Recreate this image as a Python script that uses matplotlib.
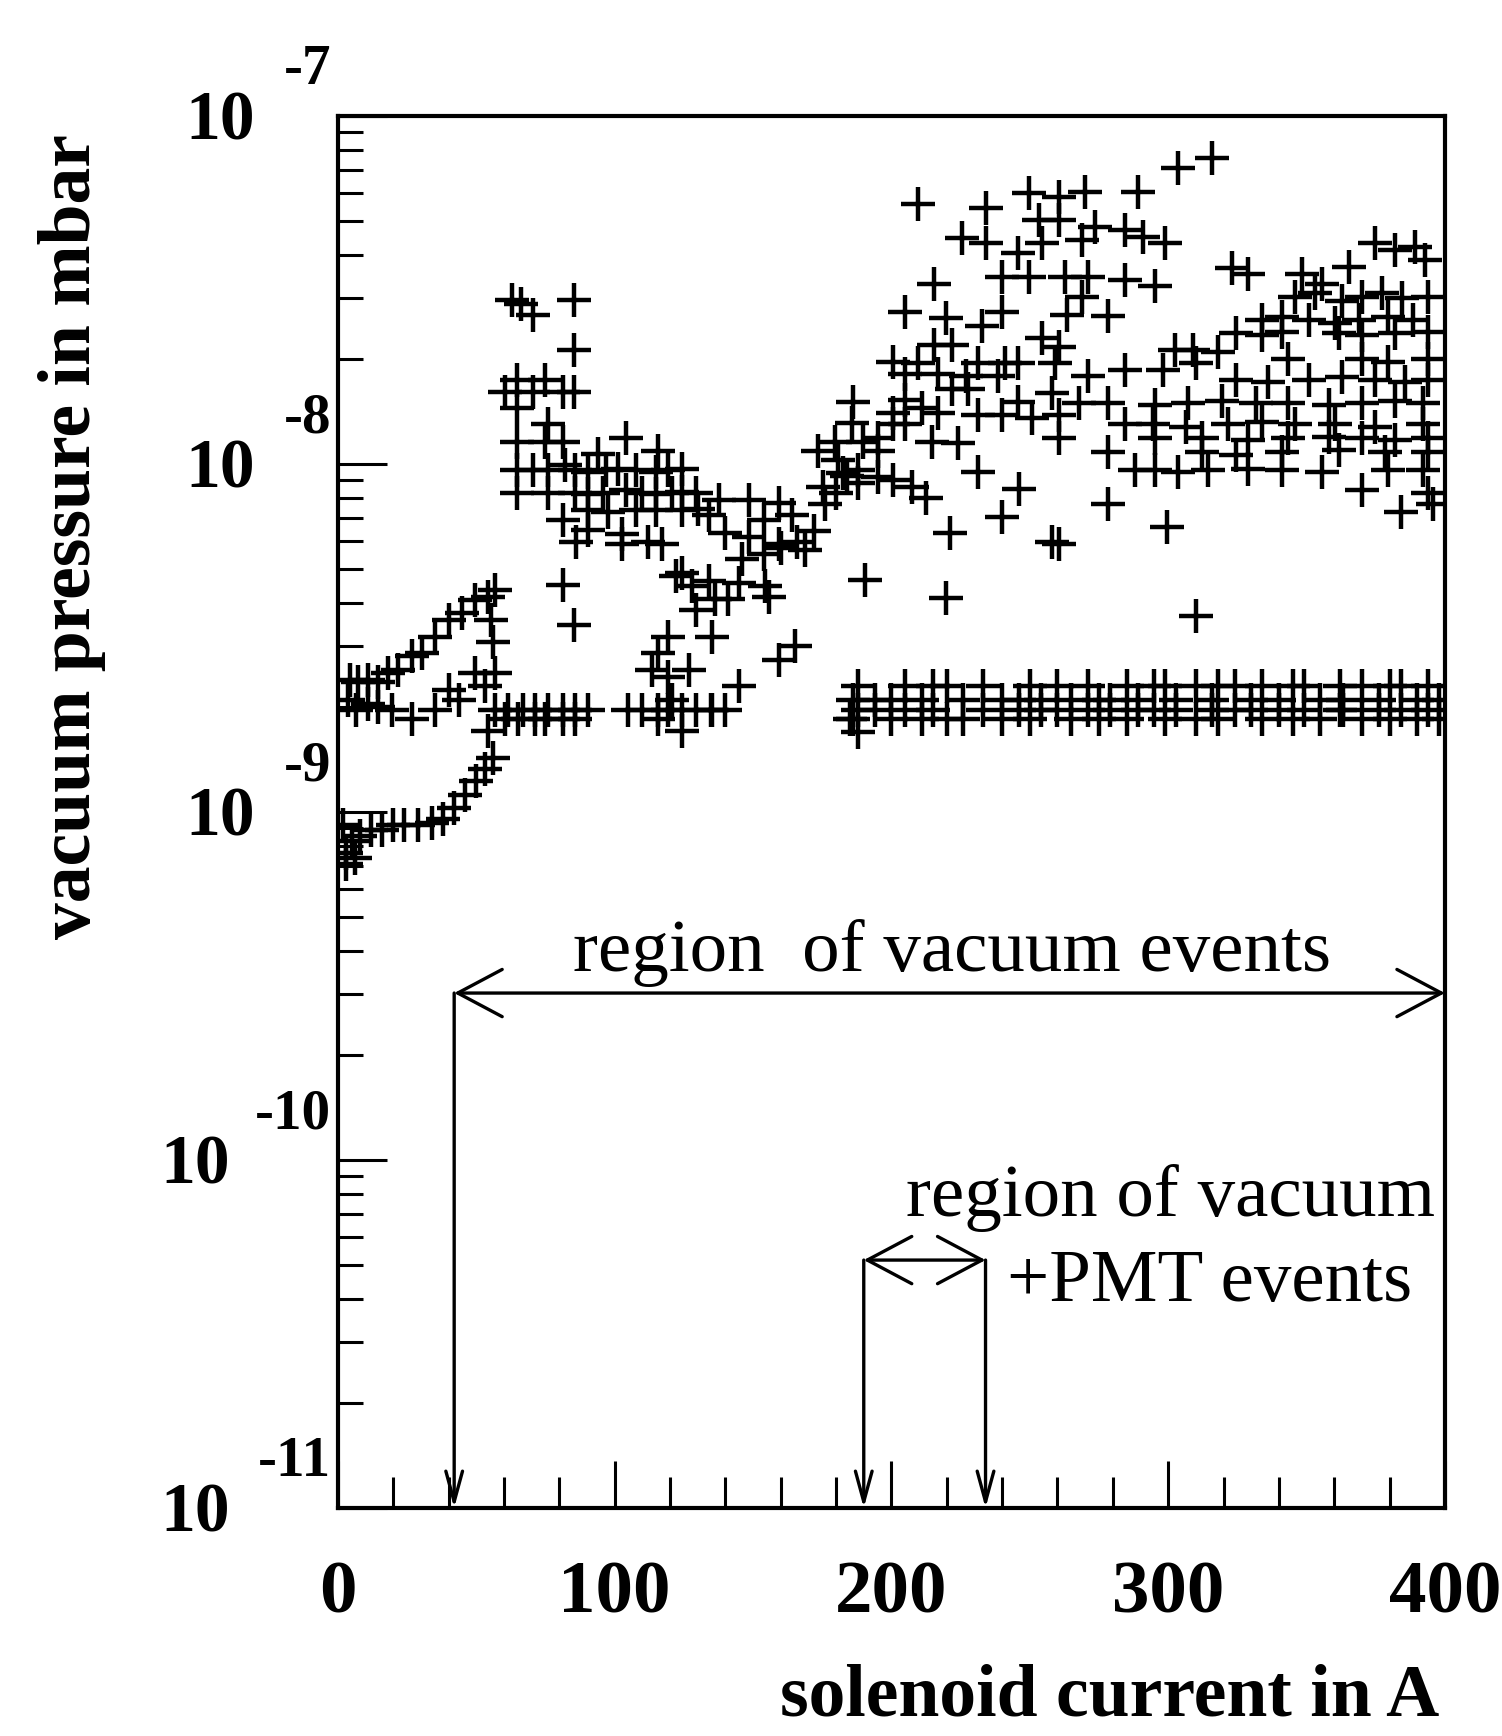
import matplotlib.pyplot as plt
from matplotlib.ticker import LogLocator, MultipleLocator, NullFormatter

plt.rcParams['font.family'] = 'serif'
plt.rcParams['font.serif'] = ['Liberation Serif', 'DejaVu Serif']

# vacuum pressure (mbar) against solenoid current (A)

# low chain at small current
low_x = [2, 3, 3, 5, 6, 8, 12, 16, 20, 24, 29, 34, 38, 42, 46, 50, 53, 56]
low_p = [9.2e-10, 7.1e-10, 7.65e-10, 8.24e-10, 7.4e-10, 8.55e-10, 8.86e-10, 8.9e-10, 9.19e-10,
         9.19e-10, 9.19e-10, 9.3e-10, 9.53e-10, 1.03e-9, 1.12e-9, 1.23e-9, 1.33e-9, 1.43e-9]

# upper chain at small current
up_x = [4.4, 7.2, 10.8, 14.4, 18, 21.6, 26.8, 30.4, 35.2, 40, 44.8, 49.6, 54.4, 56.8,
        3.6, 6.4, 10.8, 14.4, 19.6, 26.8, 35.2, 40, 43.6, 49.6, 53.2, 56.8, 55.2, 56]
up_p = [2.40e-9, 2.37e-9, 2.40e-9, 2.37e-9, 2.51e-9, 2.56e-9, 2.80e-9, 2.86e-9, 3.19e-9, 3.56e-9,
        3.73e-9, 4.07e-9, 4.16e-9, 4.35e-9,
        2.10e-9, 1.97e-9, 2.05e-9, 2.0e-9, 1.97e-9, 1.85e-9, 1.97e-9, 2.25e-9, 2.10e-9, 2.51e-9,
        2.30e-9, 2.51e-9, 3.56e-9, 3.08e-9]

# flat readings between the bursts
flat1_x = [56.8, 61.6, 66.8, 71.2, 76, 81.2, 85.6, 90.4, 60.4, 65.2, 71.2, 74.8, 81.2, 85.6, 54.4]
flat1_p = [1.97e-9, 1.97e-9, 1.97e-9, 1.97e-9, 1.97e-9, 1.97e-9, 1.97e-9, 1.97e-9,
           1.85e-9, 1.85e-9, 1.85e-9, 1.85e-9, 1.85e-9, 1.85e-9, 1.71e-9]
flat2_x = [104.8, 110, 115.6, 119.2, 124.4, 129.2, 134.8, 140, 124.4, 115.6]
flat2_p = [1.97e-9, 1.97e-9, 1.97e-9, 1.97e-9, 1.97e-9, 1.97e-9, 1.97e-9, 1.97e-9, 1.71e-9, 1.85e-9]

# baseline above ~185 A
base_x = [186, 188, 194, 200, 205, 211, 215, 220, 226, 233, 240, 246, 250, 254, 260, 265, 271, 275,
          279, 285, 289, 295, 299, 303, 310, 316, 318, 324, 330, 334, 340, 345, 349, 355, 362, 363,
          370, 376, 380, 384, 390, 394, 398]
base_hi = [2.1e-9, 2.3e-9, 2.1e-9, 2.1e-9, 2.3e-9, 2.1e-9, 2.3e-9, 2.3e-9, 2.1e-9, 2.3e-9,
           2.1e-9, 2.1e-9, 2.3e-9, 2.1e-9, 2.3e-9, 2.1e-9, 2.3e-9, 2.1e-9, 2.1e-9, 2.3e-9,
           2.1e-9, 2.3e-9, 2.3e-9, 2.1e-9, 2.3e-9, 2.1e-9, 2.3e-9, 2.3e-9, 2.1e-9, 2.3e-9,
           2.1e-9, 2.3e-9, 2.3e-9, 2.1e-9, 2.3e-9, 2.1e-9, 2.3e-9, 2.1e-9, 2.3e-9, 2.3e-9,
           2.1e-9, 2.3e-9, 2.1e-9]
base_lo = [1.85e-9, 1.97e-9, 1.97e-9, 1.85e-9, 1.97e-9, 1.85e-9, 1.97e-9, 1.85e-9, 1.85e-9, 1.97e-9,
           1.85e-9, 1.97e-9, 1.85e-9, 1.97e-9, 1.97e-9, 1.85e-9, 1.97e-9, 1.85e-9, 1.97e-9, 1.85e-9,
           1.97e-9, 1.97e-9, 1.85e-9, 1.97e-9, 1.85e-9, 1.97e-9, 1.85e-9, 1.97e-9, 1.97e-9, 1.85e-9,
           1.97e-9, 1.85e-9, 1.97e-9, 1.85e-9, 1.97e-9, 1.97e-9, 1.85e-9, 1.97e-9, 1.85e-9, 1.97e-9,
           1.85e-9, 1.97e-9, 1.85e-9]
base_start_x = [185, 188]
base_start_p = [1.85e-9, 1.7e-9]

# burst around 60-90 A
hump_x = [62.8, 66, 70.4, 85.2, 85.2, 64.8, 70.4, 74.8, 81.2, 85.2, 60.4, 64.8, 76, 64.8, 74.8,
          81.2, 64.8, 70.4, 76, 64.8, 76, 82]
hump_p = [2.97e-8, 2.88e-8, 2.68e-8, 2.97e-8, 2.13e-8, 1.75e-8, 1.61e-8, 1.75e-8, 1.61e-8, 1.61e-8,
          1.61e-8, 1.45e-8, 1.30e-8, 1.16e-8, 1.16e-8, 1.16e-8, 9.59e-9, 9.59e-9, 9.59e-9, 8.28e-9,
          8.28e-9, 9.95e-9]

# dip between 85 and 190 A
dip_x = [85.6, 90.4, 96.8, 101.2, 107.6, 114.8, 119.2, 124.4,
         85.6, 90.4, 95.6, 104, 110, 114.8, 120.8, 124.4, 129.2,
         104, 115.6, 94,
         90.4, 97.6, 107.6, 114.8, 124.4,
         81.2, 90.4, 102.8,
         102.8, 117.2, 86, 112,
         137.6, 148.4, 159.2,
         140, 148.4, 159.2, 168.8,
         130, 134,
         144.8, 154.4,
         136.4, 140.8, 155.6,
         135.2, 165.2, 159.2, 144.8, 135.2,
         81.2, 85.2, 124.4, 129.2, 119.2, 115.6,
         113.6, 119.2, 126.8, 120.8,
         122, 128, 134,
         146, 154, 160, 166, 172,
         176, 180, 184, 188,
         173.6, 180.8, 175.2, 182.4, 188,
         154, 164]
dip_p = [9.59e-9, 9.5e-9, 9.59e-9, 9.7e-9, 9.59e-9, 9.5e-9, 9.59e-9, 9.7e-9,
         8.28e-9, 8.2e-9, 8.28e-9, 8.4e-9, 8.28e-9, 8.2e-9, 8.28e-9, 8.3e-9, 8.28e-9,
         1.19e-8, 1.09e-8, 1.07e-8,
         7.36e-9, 7.3e-9, 7.36e-9, 7.4e-9, 7.36e-9,
         6.9e-9, 6.46e-9, 6.3e-9,
         5.9e-9, 5.9e-9, 5.96e-9, 5.96e-9,
         7.87e-9, 7.87e-9, 7.75e-9,
         6.33e-9, 6.18e-9, 5.9e-9, 5.66e-9,
         7.41e-9, 7.15e-9,
         4.54e-9, 4.45e-9,
         4.1e-9, 4.1e-9, 4.16e-9,
         3.19e-9, 3.0e-9, 2.73e-9, 2.3e-9, 1.97e-9,
         4.5e-9, 3.44e-9, 4.85e-9, 3.8e-9, 3.19e-9, 2.86e-9,
         2.56e-9, 2.45e-9, 2.56e-9, 2.1e-9,
         4.78e-9, 4.45e-9, 4.61e-9,
         5.33e-9, 5.53e-9, 5.74e-9, 5.96e-9, 6.41e-9,
         7.69e-9, 8.28e-9, 9.25e-9, 9.59e-9,
         1.09e-8, 1.03e-8, 8.59e-9, 9.45e-9, 8.8e-9,
         6.9e-9, 7.15e-9]

# rise between 180 and 265 A
rise_x = [185.6, 179.6, 189.6, 195.2, 200.4, 204.8,
          214.8, 224, 260.4,
          195.2, 231.2, 246,
          195.2, 200.4, 207.6, 212.4,
          186, 204.8, 222, 227.6, 245.6, 258,
          200.4, 211.2, 216.8,
          231.2, 240, 250.8, 260.4,
          204.8, 216.8, 226.8, 238.4,
          200.4, 209.6, 231.2, 241.2, 245.6, 259.2,
          215.2, 222, 254.4, 260.4,
          204.8, 219.6, 232.8, 240, 263.6,
          215.2, 240, 249.6, 262.8,
          225.6, 234, 245.6, 254.4,
          253.2, 260.4,
          209.6, 234, 249.6, 260.4,
          240, 260.4, 190.4, 219.6, 221, 258]
rise_p = [1.31e-8, 1.16e-8, 1.16e-8, 1.19e-8, 1.30e-8, 1.30e-8,
          1.16e-8, 1.15e-8, 1.19e-8,
          1.09e-8, 9.5e-9, 8.5e-9,
          9.2e-9, 9.0e-9, 8.59e-9, 8.0e-9,
          1.51e-8, 1.53e-8, 1.64e-8, 1.64e-8, 1.51e-8, 1.60e-8,
          1.40e-8, 1.45e-8, 1.40e-8,
          1.38e-8, 1.38e-8, 1.36e-8, 1.38e-8,
          1.81e-8, 1.81e-8, 1.79e-8, 1.79e-8,
          1.97e-8, 1.95e-8, 1.95e-8, 1.95e-8, 1.95e-8, 1.95e-8,
          2.2e-8, 2.2e-8, 2.31e-8, 2.17e-8,
          2.74e-8, 2.63e-8, 2.49e-8, 2.74e-8, 2.68e-8,
          3.29e-8, 3.46e-8, 3.46e-8, 3.46e-8,
          4.47e-8, 4.31e-8, 4.03e-8, 4.31e-8,
          5.03e-8, 5.03e-8,
          5.6e-8, 5.45e-8, 6.03e-8, 5.86e-8,
          7.03e-9, 5.9e-9, 4.65e-9, 4.13e-9, 6.32e-9, 5.96e-9]

# high band above 265 A
high_x = [303.6, 316, 270, 289.2,
          273.6, 284.4, 290.8, 298.8, 268.8,
          271.2, 284.4, 295.2, 278.4, 268.8,
          323.2, 328.8, 348.4, 355.6,
          365.2, 374.8, 382, 389.2, 392.8,
          346, 353.2, 362.8, 370, 377.2, 384.4, 394,
          334, 341.2, 350.8, 360.4, 368.8, 379.6, 388.4,
          324.4, 334, 341.2, 361.6, 370, 382, 394,
          302.4, 308.8, 318,
          343.2, 370, 379.6, 394,
          271.2, 284.4, 298, 310,
          324.4, 336, 350.8, 362.8, 374.8, 385.6, 394,
          267.6, 278.4, 295.2, 307.2, 319.6, 331.6, 343.2, 358, 370, 382, 392,
          284.4, 294.4, 306.4, 321.6, 334, 346, 360.4, 374.8, 392,
          295.2, 312.4, 328.8, 343.2, 358, 370, 382, 394,
          278.4, 312.4, 324.4, 341.2, 361.6, 378.4, 394,
          288, 295.2, 303.6, 314.4, 328.8, 341.2, 355.6, 379.6, 392,
          278.4, 370, 394, 299.6, 310, 384, 395.6]
high_p = [7.08e-8, 7.57e-8, 6.07e-8, 6.07e-8,
          4.81e-8, 4.7e-8, 4.5e-8, 4.31e-8, 4.4e-8,
          3.46e-8, 3.39e-8, 3.24e-8, 2.66e-8, 3.03e-8,
          3.66e-8, 3.53e-8, 3.53e-8, 3.3e-8,
          3.69e-8, 4.31e-8, 4.12e-8, 4.2e-8, 3.86e-8,
          3.03e-8, 3.1e-8, 2.95e-8, 3.03e-8, 3.1e-8, 3.0e-8, 3.03e-8,
          2.6e-8, 2.65e-8, 2.6e-8, 2.55e-8, 2.6e-8, 2.65e-8, 2.6e-8,
          2.38e-8, 2.35e-8, 2.4e-8, 2.38e-8, 2.35e-8, 2.38e-8, 2.4e-8,
          2.13e-8, 2.13e-8, 2.1e-8,
          2.0e-8, 2.0e-8, 1.97e-8, 2.0e-8,
          1.79e-8, 1.87e-8, 1.87e-8, 1.95e-8,
          1.75e-8, 1.72e-8, 1.75e-8, 1.78e-8, 1.75e-8, 1.72e-8, 1.75e-8,
          1.5e-8, 1.5e-8, 1.48e-8, 1.5e-8, 1.52e-8, 1.5e-8, 1.5e-8, 1.48e-8, 1.5e-8, 1.52e-8, 1.5e-8,
          1.3e-8, 1.3e-8, 1.28e-8, 1.3e-8, 1.32e-8, 1.3e-8, 1.3e-8, 1.28e-8, 1.3e-8,
          1.19e-8, 1.19e-8, 1.17e-8, 1.19e-8, 1.2e-8, 1.19e-8, 1.17e-8, 1.19e-8,
          1.08e-8, 1.08e-8, 1.06e-8, 1.08e-8, 1.1e-8, 1.08e-8, 1.08e-8,
          9.59e-9, 9.59e-9, 9.5e-9, 9.59e-9, 9.7e-9, 9.59e-9, 9.5e-9, 9.59e-9, 9.59e-9,
          7.7e-9, 8.4e-9, 8.28e-9, 6.6e-9, 3.67e-9, 7.3e-9, 7.69e-9]

# marked current ranges and the arrow heights (mbar)
vac_range = [42, 400]
vac_level = 3.02e-10
pmt_range = [190, 234]
pmt_level = 5.16e-11

decades = [1e-7, 1e-8, 1e-9, 1e-10, 1e-11]
exponents = ['-7', '-8', '-9', '-10', '-11']

fig = plt.figure(figsize=(15.02, 17.36), dpi=100)
ax = fig.add_axes([0.225, 0.1313, 0.737, 0.8018])

groups = [(low_x, low_p), (up_x, up_p), (flat1_x, flat1_p), (flat2_x, flat2_p),
          (base_x, base_hi), (base_x, base_lo), (base_start_x, base_start_p),
          (hump_x, hump_p), (dip_x, dip_p), (rise_x, rise_p), (high_x, high_p)]
for xs, ps in groups:
    ax.plot(xs, ps, '+', color='black', ms=25, mew=3.2, linestyle='none')

ax.set_yscale('log')
ax.set_xlim(0, 400)
ax.set_ylim(1e-11, 1e-7)

ax.yaxis.set_major_locator(LogLocator(base=10, numticks=10))
ax.yaxis.set_minor_locator(LogLocator(base=10, subs=range(2, 10), numticks=20))
ax.yaxis.set_major_formatter(NullFormatter())
ax.yaxis.set_minor_formatter(NullFormatter())
ax.xaxis.set_major_locator(MultipleLocator(100))
ax.xaxis.set_minor_locator(MultipleLocator(20))

ax.tick_params(axis='x', which='major', direction='in', length=34, width=2.2,
               labelsize=54, pad=38)
ax.tick_params(axis='x', which='minor', direction='in', length=22, width=2.2)
ax.tick_params(axis='y', which='major', direction='in', length=35, width=2.2)
ax.tick_params(axis='y', which='minor', direction='in', length=18, width=2.2)
for lab in ax.get_xticklabels():
    lab.set_fontweight('bold')
for sp in ax.spines.values():
    sp.set_linewidth(3)

# ROOT style decade labels: "10" with a raised exponent
for v, e in zip(decades, exponents):
    shift = -60 if len(e) == 2 else -78
    ax.annotate('10', xy=(0, v), xycoords=('axes fraction', 'data'), xytext=(shift, -17),
                textcoords='offset points', ha='right', va='baseline', fontsize=50,
                fontweight='bold', annotation_clip=False)
    ax.annotate(e, xy=(0, v), xycoords=('axes fraction', 'data'), xytext=(-5, 23),
                textcoords='offset points', ha='right', va='baseline', fontsize=41,
                fontweight='bold', annotation_clip=False)

# marked regions
both = dict(arrowstyle='<->,head_length=1.6,head_width=0.85', lw=2.4, color='black',
            shrinkA=0, shrinkB=0, mutation_scale=20)
down = dict(arrowstyle='->,head_length=1.1,head_width=0.3', lw=2.4, color='black',
            shrinkA=0, shrinkB=0, mutation_scale=20)
ax.annotate('', xy=(vac_range[0], vac_level), xytext=(vac_range[1], vac_level),
            arrowprops=both, annotation_clip=False)
ax.annotate('', xy=(vac_range[0], 1e-11), xytext=(vac_range[0], vac_level),
            arrowprops=down, annotation_clip=False)
ax.annotate('', xy=(pmt_range[0], pmt_level), xytext=(pmt_range[1], pmt_level),
            arrowprops=both, annotation_clip=False)
for xv in pmt_range:
    ax.annotate('', xy=(xv, 1e-11), xytext=(xv, pmt_level),
                arrowprops=down, annotation_clip=False)

ax.text(222, 3.49e-10, 'region  of vacuum events', ha='center', va='baseline', fontsize=54)
ax.text(301, 6.92e-11, 'region of vacuum', ha='center', va='baseline', fontsize=54)
ax.text(315, 3.94e-11, '+PMT events', ha='center', va='baseline', fontsize=54)

fig.text(0.048, 0.691, 'vacuum pressure in mbar', rotation=90, ha='center', va='center',
         fontsize=53, fontweight='bold')
fig.text(0.958, 0.012, 'solenoid current in A', ha='right', va='baseline',
         fontsize=53, fontweight='bold')

fig.savefig('out.png', dpi=100)
